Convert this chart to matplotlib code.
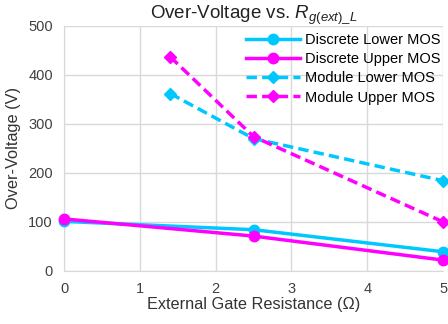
import matplotlib
matplotlib.use("Agg")
import matplotlib.pyplot as plt

plt.rcParams['font.family'] = ['Liberation Sans', 'DejaVu Sans']
plt.rcParams['mathtext.fontset'] = 'custom'
plt.rcParams['mathtext.it'] = 'Liberation Sans:italic'
plt.rcParams['mathtext.rm'] = 'Liberation Sans'

# data
x_discrete = [0, 2.5, 5]
discrete_lower = [101, 84, 39]
discrete_upper = [106, 71, 22]
x_module = [1.4, 2.5, 5]
module_lower = [362, 270, 184]
module_upper = [437, 274, 100]

cyan = '#00C8FF'
magenta = '#FF00FF'

fig = plt.figure(figsize=(4.48, 3.24), dpi=100)
ax = fig.add_axes([0.143, 0.164, 0.846, 0.756])

ax.plot(x_discrete, discrete_lower, color=cyan, lw=2.5, marker='o', ms=7.5,
        label='Discrete Lower MOS', zorder=3)
ax.plot(x_discrete, discrete_upper, color=magenta, lw=2.5, marker='o', ms=7.5,
        label='Discrete Upper MOS', zorder=3)
ax.plot(x_module, module_lower, color=cyan, lw=2.5, ls=(0, (3, 1.5)), marker='D', ms=6.5,
        label='Module Lower MOS', zorder=3)
ax.plot(x_module, module_upper, color=magenta, lw=2.5, ls=(0, (3, 1.5)), marker='D', ms=6.5,
        label='Module Upper MOS', zorder=3)

ax.set_xlim(0, 5)
ax.set_ylim(0, 500)
ax.set_xticks(range(0, 6))
ax.set_yticks(range(0, 501, 100))
ax.grid(True, color='#d9d9d9', lw=1)
ax.set_axisbelow(True)
for s in ['top', 'right']:
    ax.spines[s].set_visible(False)
for s in ['left', 'bottom']:
    ax.spines[s].set_color('#d9d9d9')
ax.tick_params(length=0, labelsize=10.5, colors='#404040', pad=8)
for line in ax.lines:
    line.set_clip_on(False)

ax.set_title(r'Over-Voltage vs. $R_{g(ext)\_L}$', fontsize=13.5, color='#222222', pad=5)
ax.set_xlabel('External Gate Resistance (Ω)', fontsize=11.7, color='#333333', labelpad=1)
ax.set_ylabel('Over-Voltage (V)', fontsize=11.8, color='#333333', labelpad=5)

ax.legend(loc='upper right', bbox_to_anchor=(1.012, 1.0), frameon=False, fontsize=10.5,
          handlelength=3.7, borderaxespad=0.1, labelspacing=0.35, handletextpad=0.35)

fig.savefig('out.png', dpi=100)
